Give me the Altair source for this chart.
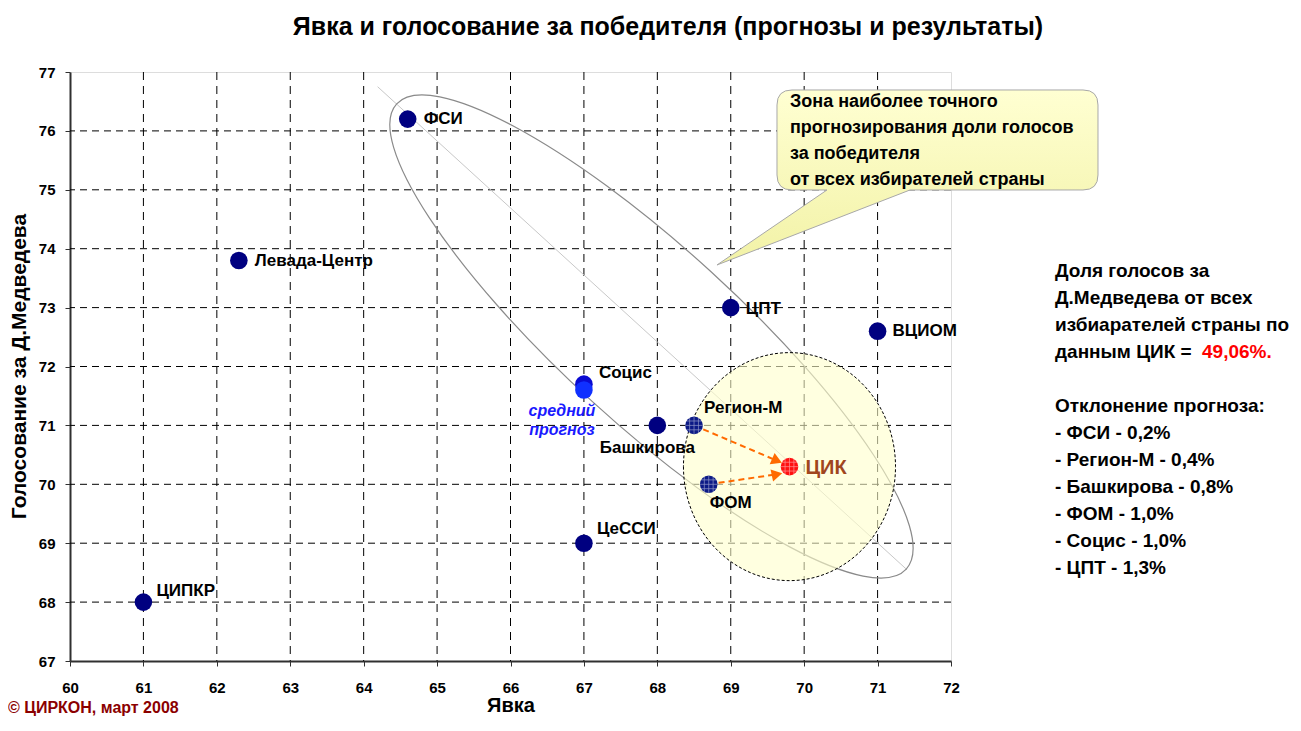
import altair as alt
import pandas as pd

FONT = "Liberation Sans"

# ---------------- data ----------------
names = ["ФСИ", "Левада-Центр", "ЦПТ", "ВЦИОМ", "Социс", "средний прогноз",
         "Башкирова", "Регион-М", "ФОМ", "ЦИК", "ЦеССИ", "ЦИПКР"]
turnout = [64.6, 62.3, 69.0, 71.0, 67.0, 67.0, 68.0, 68.5, 68.7, 69.8, 67.0, 61.0]
vote = [76.2, 73.8, 73.0, 72.6, 71.7, 71.6, 71.0, 71.0, 70.0, 70.3, 69.0, 68.0]
groups = ["poll", "poll", "poll", "poll", "socis", "avg",
          "poll", "best", "best", "result", "poll", "poll"]

x_ticks = list(range(60, 73))
y_ticks = list(range(67, 78))

arrow_from = ["Регион-М", "ФОМ"]
arrow_to = "ЦИК"

title_text = "Явка и голосование за победителя (прогнозы и результаты)"
x_title = "Явка"
y_title = "Голосование за Д.Медведева"
callout_lines = ["Зона наиболее точного", "прогнозирования доли голосов",
                 "за победителя", "от всех избирателей страны"]
side_lines_1 = ["Доля голосов за", "Д.Медведева от всех",
                "избиарателей страны по", "данным ЦИК = "]
side_red = "49,06%."
side_lines_2 = ["Отклонение прогноза:", "- ФСИ - 0,2%", "- Регион-М - 0,4%",
                "- Башкирова - 0,8%", "- ФОМ - 1,0%", "- Социс - 1,0%",
                "- ЦПТ - 1,3%"]
copyright_text = "© ЦИРКОН, март 2008"

df = pd.DataFrame({"name": names, "turnout": turnout, "vote": vote, "group": groups})

# ---------------- scales ----------------
xscale = alt.Scale(domain=[60, 72], nice=False, zero=False)
yscale = alt.Scale(domain=[67, 77], nice=False, zero=False)
common_axis = dict(title=None, grid=False, labelFont=FONT, labelFontSize=15,
                   labelFontWeight="bold", labelColor="black", tickColor="#303030",
                   tickSize=5, domainColor="#303030", domainWidth=2, labelFlush=False)
X = alt.X("turnout:Q", scale=xscale,
          axis=alt.Axis(values=x_ticks, labelPadding=14, **common_axis))
Y = alt.Y("vote:Q", scale=yscale,
          axis=alt.Axis(values=y_ticks, labelPadding=10, **common_axis))

layers = []

# grid lines
gx = alt.Chart(pd.DataFrame({"turnout": x_ticks[1:-1]})).mark_rule(
    color="black", strokeWidth=1, strokeDash=[8, 6]).encode(x=X)
gy = alt.Chart(pd.DataFrame({"vote": y_ticks[1:-1]})).mark_rule(
    color="black", strokeWidth=1, strokeDash=[7, 5]).encode(y=Y)
layers += [gx, gy]

# big rotated ellipse (zone of forecasts) and its axis
ell = alt.Chart(pd.DataFrame({"turnout": [67.92], "vote": [72.51]})).mark_point(
    shape="M-1,0A1,0.255 0 1,0 1,0A1,0.255 0 1,0 -1,0Z",
    size=476100, angle=42.4, filled=False, stroke="#8a8a8a",
    strokeWidth=1.2, opacity=1).encode(x=X, y=Y)
diag = alt.Chart(pd.DataFrame({"turnout": [64.19], "vote": [76.75],
                               "t2": [71.40], "v2": [68.55]})).mark_rule(
    color="#c8c8c8", strokeWidth=1).encode(x=X, y=Y, x2="t2:Q", y2="v2:Q")
layers += [diag, ell]

# dashed zone circle around ЦИК
zone = alt.Chart(df).transform_filter(alt.datum.name == arrow_to).mark_point(
    shape="M-0.93,0A0.93,1 0 1,0 0.93,0A0.93,1 0 1,0 -0.93,0Z",
    size=51984, filled=True, fill="#ffffcc", fillOpacity=0.6,
    stroke="black", strokeWidth=1, strokeDash=[3, 2], opacity=1).encode(x=X, y=Y)
layers.append(zone)

# callout bubble
callout_path = ("M-0.7275,-0.25L0.7275,-0.25Q0.8025,-0.25 0.8025,-0.175L0.8025,0.175"
                "Q0.8025,0.25 0.7275,0.25L-0.1375,0.25L-1.1025,0.625L-0.5525,0.25"
                "L-0.7275,0.25Q-0.8025,0.25 -0.8025,0.175L-0.8025,-0.175"
                "Q-0.8025,-0.25 -0.7275,-0.25Z")
grad = alt.Gradient(gradient="linear", x1=0, y1=0, x2=0, y2=1,
                    stops=[alt.GradientStop(color="#ffffd2", offset=0),
                           alt.GradientStop(color="#f2f2a6", offset=1)])
callout = alt.Chart(pd.DataFrame({"turnout": [71.816], "vote": [75.846]})).mark_point(
    shape=callout_path, size=160000, filled=True, fill=grad, stroke="#a8a8a8",
    strokeWidth=1, opacity=1).encode(x=X, y=Y)
callout_txt = alt.Chart(pd.DataFrame({"t": ["\n".join(callout_lines)]})).mark_text(
    align="left", baseline="middle", font=FONT, fontSize=18, fontWeight="bold",
    color="black", lineBreak="\n", lineHeight=26).encode(
    x=alt.value(720), y=alt.value(30), text="t:N")
layers += [callout, callout_txt]

# arrows from best forecasts to ЦИК
arrows = pd.DataFrame({
    "name": arrow_from,
    "turnout": [turnout[names.index(n)] for n in arrow_from],
    "vote": [vote[names.index(n)] for n in arrow_from],
    "t2": [69.63, 69.63], "v2": [70.40, 70.17]})
heads = pd.DataFrame({"turnout": [69.63, 69.63], "vote": [70.40, 70.17],
                      "ang": [23.6, 348.0]})
arr_line = alt.Chart(arrows).mark_rule(color="#ff6a00", strokeWidth=2,
                                       strokeDash=[6, 4]).encode(
    x=X, y=Y, x2="t2:Q", y2="v2:Q")
arr_head = alt.Chart(heads).mark_point(shape="triangle-right", size=150, filled=True,
                                       color="#ff6a00", opacity=1).encode(
    x=X, y=Y, angle=alt.Angle("ang:Q", scale=None))
layers.append(arr_line)

# points
pts = alt.Chart(df).mark_circle(size=310, opacity=1).encode(
    x=X, y=Y,
    color=alt.Color("group:N", legend=None,
                    scale=alt.Scale(domain=["poll", "socis", "avg", "best", "result"],
                                    range=["#000080", "#0a0ad2", "#1030ff",
                                           "#0c1a86", "#ff1010"])))
hatch = alt.Chart(df).transform_filter(
    alt.FieldOneOfPredicate(field="group", oneOf=["best", "result"])).mark_point(
    shape=("M-0.5,-0.87L-0.5,0.87M0,-1L0,1M0.5,-0.87L0.5,0.87"
           "M-0.87,-0.5L0.87,-0.5M-1,0L1,0M-0.87,0.5L0.87,0.5"),
    size=310, filled=False, stroke="white", strokeWidth=0.7, opacity=0.55).encode(x=X, y=Y)
layers += [pts, hatch, arr_head]

# point labels
label_specs = {
    "ФСИ": dict(dx=16, dy=0),
    "Левада-Центр": dict(dx=16, dy=1),
    "ЦПТ": dict(dx=15, dy=1),
    "ВЦИОМ": dict(dx=15, dy=0),
    "Социс": dict(dx=15, dy=-11),
    "Регион-М": dict(dx=10, dy=-17),
    "Башкирова": dict(dx=-10, dy=23, align="center"),
    "ФОМ": dict(dx=22, dy=19, align="center"),
    "ЦеССИ": dict(dx=13, dy=-14),
    "ЦИПКР": dict(dx=13, dy=-11),
    "ЦИК": dict(dx=16, dy=1, color="#a0461e", size=20),
    "средний прогноз": dict(dx=-22, dy=21, align="center", color="#1a1aff",
                            style="italic", size=16),
}
for nm, sp in label_specs.items():
    extra = {}
    if nm == "средний прогноз":
        extra = dict(lineBreak=" ", lineHeight=19)
    layers.append(alt.Chart(df).transform_filter(alt.datum.name == nm).mark_text(
        dx=sp["dx"], dy=sp["dy"], align=sp.get("align", "left"), baseline="middle",
        font=FONT, fontSize=sp.get("size", 17), fontWeight="bold",
        fontStyle=sp.get("style", "normal"), color=sp.get("color", "black"),
        **extra).encode(x=X, y=Y, text="name:N"))

# titles and side texts (pixel positions relative to the plot area)
def free_text(txt, x, y, size, color="black", angle=0, align="center",
              baseline="middle", style="normal", lh=None):
    kw = dict(align=align, baseline=baseline, font=FONT, fontSize=size,
              fontWeight="bold", color=color, fontStyle=style, angle=angle)
    if lh:
        kw.update(lineBreak="\n", lineHeight=lh)
    return alt.Chart(pd.DataFrame({"t": [txt]})).mark_text(**kw).encode(
        x=alt.value(x), y=alt.value(y), text="t:N")

layers.append(free_text(title_text, 598, -45, 25))
layers.append(free_text(x_title, 441, 634, 20))
layers.append(free_text(y_title, -50, 294.5, 21, angle=270))
layers.append(free_text("\n".join(side_lines_1), 985, 205, 19, align="left",
                        baseline="alphabetic", lh=27))
layers.append(free_text(side_red, 1132, 205 + 3 * 27, 19, color="#ff0000",
                        align="left", baseline="alphabetic"))
layers.append(free_text("\n".join(side_lines_2), 985, 340, 19, align="left",
                        baseline="alphabetic", lh=27))
layers.append(free_text(copyright_text, -62, 641, 16, color="#8b0000",
                        align="left", baseline="alphabetic"))

chart = alt.layer(*layers).properties(
    width=881, height=589,
    autosize=alt.AutoSizeParams(type="none"),
    padding={"left": 62, "top": 64, "right": 340, "bottom": 57},
).configure_view(stroke="#7a7a7a", strokeWidth=2).configure(background="white")

chart.save("out.html", embed_options={"renderer": "svg", "actions": False})
